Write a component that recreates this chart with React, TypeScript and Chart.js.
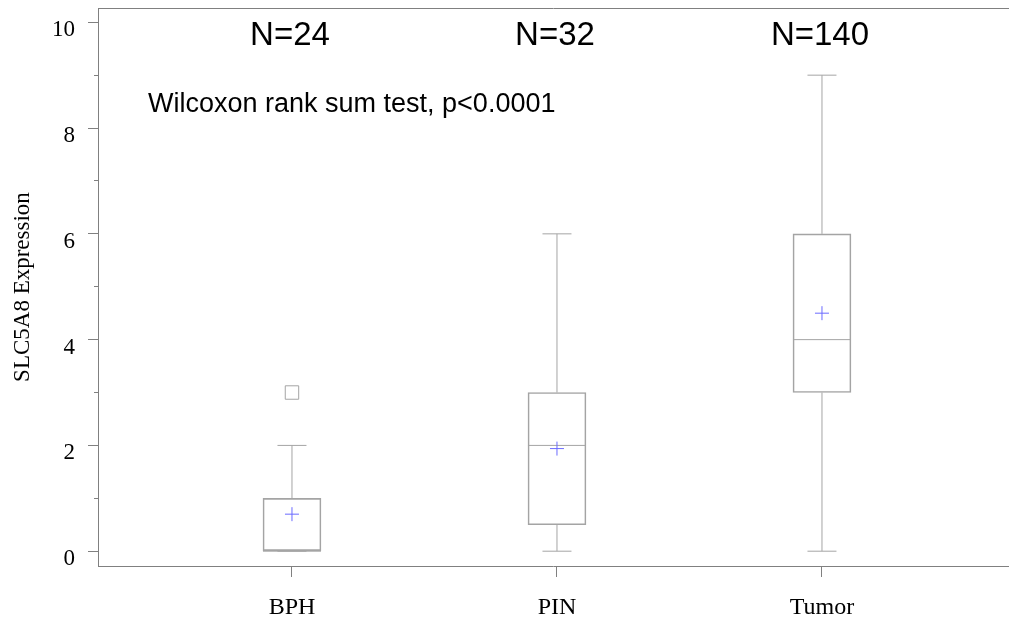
import { useEffect, useRef } from 'react';
import { Chart, registerables } from 'chart.js';

Chart.register(...registerables);

// ---- data ----
const categories = ['BPH', 'PIN', 'Tumor'];
const whiskerLow = [0, 0, 0];
const q1 = [0, 0.5, 3];
const median = [0, 2, 4];
const q3 = [1, 3, 6];
const whiskerHigh = [2, 6, 9];
const means = [0.7, 1.94, 4.5];
const outliers = [[3], [], []];
const sampleSizes = ['N=24', 'N=32', 'N=140'];
const testLabel = 'Wilcoxon rank sum test, p<0.0001';
const yMajorTicks = [0, 2, 4, 6, 8, 10];
const yMinorTicks = [1, 3, 5, 7, 9];
const yTitle = 'SLC5A8 Expression';

const SERIF = "'Liberation Serif', 'Times New Roman', serif";
const SANS = "'Liberation Sans', Arial, sans-serif";
const AXIS = '#808080';
const BOX = '#a4a4a4';
const MEAN = '#6b6bff';

const X_MIN = 0.268;
const X_MAX = 3.702;
const Y_MIN = -0.28;
const Y_MAX = 10.27;

const noPad = (s: any) => {
  s.paddingTop = 0;
  s.paddingBottom = 0;
  s.paddingLeft = 0;
  s.paddingRight = 0;
};

const annotationPlugin = {
  id: 'annotations',
  afterDatasetsDraw(chart: any) {
    const { ctx, chartArea, scales } = chart;
    ctx.save();
    ctx.fillStyle = '#000';
    ctx.textBaseline = 'middle';
    ctx.textAlign = 'center';
    ctx.font = `33px ${SANS}`;
    sampleSizes.forEach((t, i) => {
      ctx.fillText(t, scales.x.getPixelForValue(i + 1) - 2, chartArea.top + 28);
    });
    ctx.textAlign = 'left';
    ctx.font = `27px ${SANS}`;
    ctx.fillText(testLabel, chartArea.left + 50, chartArea.top + 97);
    ctx.restore();
  },
};

export default function App() {
  const ref = useRef<HTMLCanvasElement>(null);

  useEffect(() => {
    if (!ref.current) return;
    const xs = categories.map((_, i) => i + 1);

    const boxData = xs.map((x, i) => ({ x, y: [q1[i], q3[i]] }));
    const whiskerData: any[] = [];
    xs.forEach((x, i) => {
      whiskerData.push({ x, y: q3[i] }, { x, y: whiskerHigh[i] }, { x, y: null });
      whiskerData.push({ x, y: whiskerLow[i] }, { x, y: q1[i] }, { x, y: null });
    });
    const capData: any[] = [];
    xs.forEach((x, i) => {
      capData.push({ x, y: whiskerLow[i] }, { x, y: whiskerHigh[i] });
    });
    const medianData = xs.map((x, i) => ({ x, y: median[i] }));
    const meanData = xs.map((x, i) => ({ x, y: means[i] }));
    const outlierData: any[] = [];
    xs.forEach((x, i) => outliers[i].forEach((v) => outlierData.push({ x, y: v })));

    const chart = new Chart(ref.current, {
      type: 'bar',
      data: {
        datasets: [
          {
            type: 'scatter',
            label: 'Mean',
            data: meanData,
            pointStyle: 'cross',
            pointRadius: 7,
            pointHoverRadius: 7,
            borderColor: MEAN,
            borderWidth: 1,
          } as any,
          {
            type: 'scatter',
            label: 'Outliers',
            data: outlierData,
            pointStyle: 'rect',
            pointRadius: 9.5,
            pointHoverRadius: 9.5,
            borderColor: BOX,
            backgroundColor: 'rgba(0,0,0,0)',
            borderWidth: 1,
          },
          {
            type: 'scatter',
            label: 'Median',
            data: medianData,
            pointStyle: 'line',
            pointRadius: 29,
            pointHoverRadius: 29,
            borderColor: BOX,
            borderWidth: 1,
          },
          {
            type: 'scatter',
            label: 'Caps',
            data: capData,
            pointStyle: 'line',
            pointRadius: 14.5,
            pointHoverRadius: 14.5,
            borderColor: BOX,
            borderWidth: 1,
          },
          {
            type: 'line',
            label: 'Whiskers',
            data: whiskerData,
            borderColor: BOX,
            borderWidth: 1,
            pointRadius: 0,
            pointHoverRadius: 0,
            spanGaps: false,
            fill: false,
          } as any,
          {
            type: 'bar',
            label: 'Box',
            data: boxData as any,
            barThickness: 58,
            borderColor: BOX,
            borderWidth: 1,
            borderSkipped: false,
            backgroundColor: 'rgba(0,0,0,0)',
          } as any,
        ],
      },
      options: {
        animation: false,
        responsive: true,
        maintainAspectRatio: false,
        layout: { autoPadding: false, padding: { left: 0, top: 8, right: 1, bottom: 0 } },
        plugins: {
          legend: { display: false },
          tooltip: { enabled: false },
        },
        events: [],
        scales: {
          x: {
            type: 'linear',
            position: 'bottom',
            min: X_MIN,
            max: X_MAX,
            offset: false,
            grid: { display: true, drawOnChartArea: false, offset: false, tickLength: 11, color: AXIS },
            border: { display: true, color: AXIS, width: 1 },
            afterBuildTicks: (s: any) => {
              s.ticks = xs.map((v) => ({ value: v }));
            },
            afterFit: (s: any) => {
              s.height = 57;
              noPad(s);
            },
            ticks: {
              autoSkip: false,
              maxRotation: 0,
              padding: 16,
              color: '#000',
              font: { family: SERIF, size: 24 },
              callback: (v: any) => categories[Math.round(Number(v)) - 1] ?? '',
            },
          },
          xTop: {
            type: 'linear',
            position: 'top',
            min: X_MIN,
            max: X_MAX,
            grid: { display: false },
            border: { display: true, color: AXIS, width: 1 },
            ticks: { display: false },
            afterFit: (s: any) => {
              s.height = 0;
              noPad(s);
            },
          },
          y: {
            type: 'linear',
            position: 'left',
            weight: 1,
            min: Y_MIN,
            max: Y_MAX,
            grid: { display: true, drawOnChartArea: false, tickLength: 10, color: AXIS },
            border: { display: true, color: AXIS, width: 1 },
            afterBuildTicks: (s: any) => {
              s.ticks = yMajorTicks.map((v) => ({ value: v }));
            },
            afterFit: (s: any) => {
              s.width = 98;
              noPad(s);
            },
            ticks: {
              padding: 13,
              labelOffset: 8,
              color: '#000',
              font: { family: SERIF, size: 23 },
              callback: (v: any) => String(v),
            },
            title: {
              display: true,
              text: yTitle,
              color: '#000',
              font: { family: SERIF, size: 23 },
              padding: { top: 9, bottom: 0 },
            },
          },
          yMinor: {
            type: 'linear',
            position: 'left',
            weight: 0,
            min: Y_MIN,
            max: Y_MAX,
            grid: { display: true, drawOnChartArea: false, tickLength: 4, color: AXIS },
            border: { display: true, color: AXIS, width: 1 },
            ticks: { display: false },
            afterBuildTicks: (s: any) => {
              s.ticks = yMinorTicks.map((v) => ({ value: v }));
            },
            afterFit: (s: any) => {
              s.width = 0;
              noPad(s);
            },
          },
        },
      } as any,
      plugins: [annotationPlugin],
    });
    return () => chart.destroy();
  }, []);

  return (
    <div style={{ position: 'absolute', left: 0, top: 0, width: 1009, height: 623, background: '#fff' }}>
      <canvas ref={ref} />
    </div>
  );
}
